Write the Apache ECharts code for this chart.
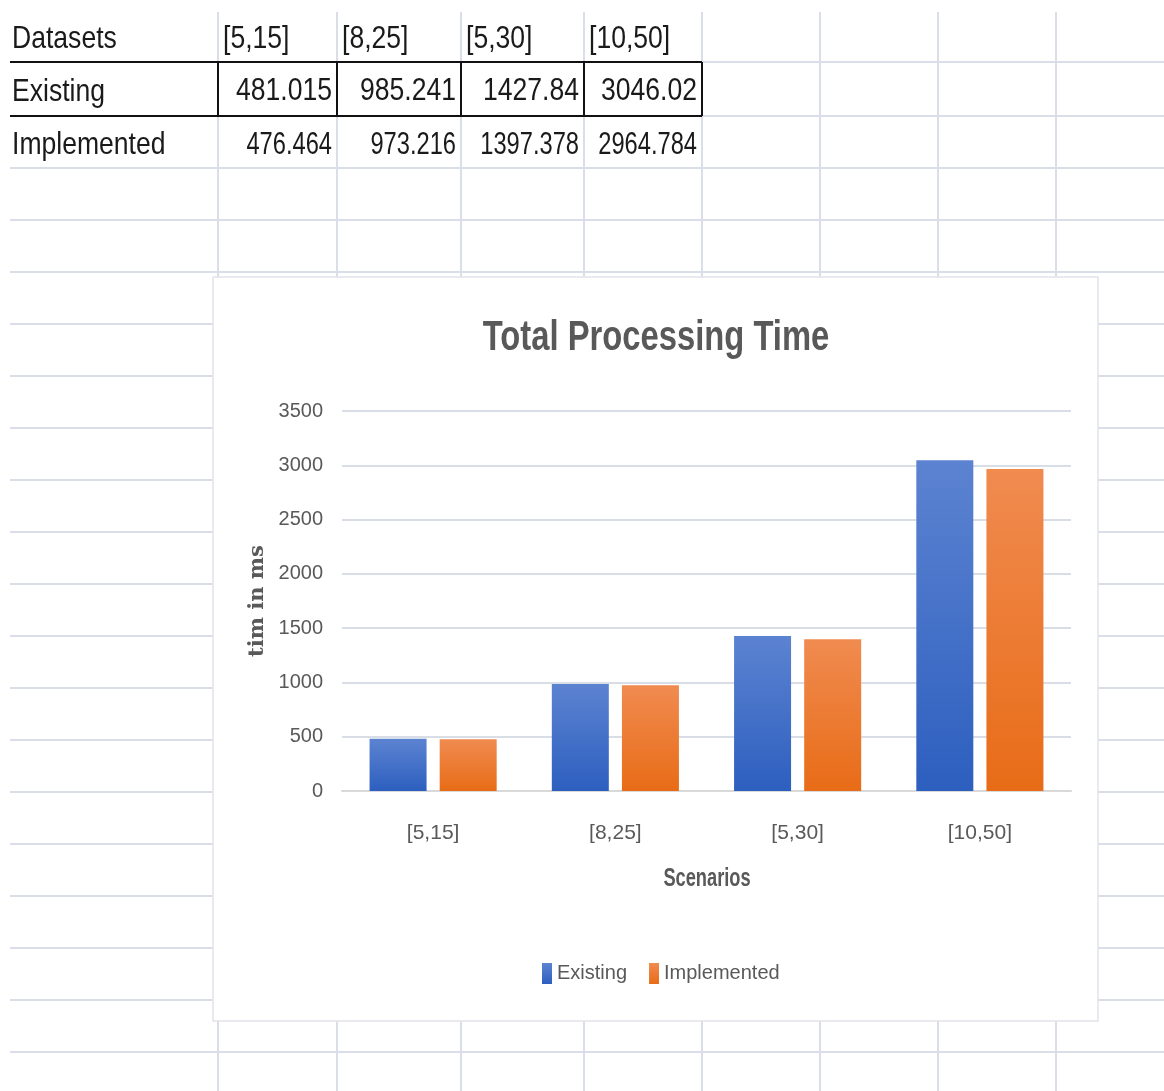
<!DOCTYPE html>
<html>
<head>
<meta charset="utf-8">
<script src="https://cdn.jsdelivr.net/npm/echarts@6/dist/echarts.min.js"></script>
<style>
  html, body { margin: 0; padding: 0; background: #fff; }
  #main { width: 1164px; height: 1091px; }
</style>
</head>
<body>
<div id="main"></div>
<script>
// data
var scenarios = ['[5,15]', '[8,25]', '[5,30]', '[10,50]'];
var existing = [481.015, 985.241, 1427.84, 3046.02];
var implemented = [476.464, 973.216, 1397.378, 2964.784];
var yTicks = [0, 500, 1000, 1500, 2000, 2500, 3000, 3500];

var FONT = '"Liberation Sans", Arial, sans-serif';

// spreadsheet look (cell borders)
var colX = [218, 337, 461, 584, 702, 820, 938, 1056];
var rowY = [62, 116, 168, 220, 272, 324, 376, 428, 480, 532, 584, 636, 688, 740, 792, 844, 896, 948, 1000, 1052];

var elems = [];
colX.forEach(function (x) {
    elems.push({type: 'line', z: -20, shape: {x1: x, y1: 12, x2: x, y2: 1091},
        style: {stroke: '#dadee8', lineWidth: 2}});
});
rowY.forEach(function (y) {
    elems.push({type: 'line', z: -20, shape: {x1: 10, y1: y, x2: 1164, y2: y},
        style: {stroke: '#dadee8', lineWidth: 2}});
});

// thick border around the Existing row
elems.push({type: 'line', z: -5, shape: {x1: 10, y1: 62, x2: 702, y2: 62}, style: {stroke: '#111', lineWidth: 2}});
elems.push({type: 'line', z: -5, shape: {x1: 10, y1: 116, x2: 702, y2: 116}, style: {stroke: '#111', lineWidth: 2}});
for (var c = 0; c < 5; c++)
{
    elems.push({type: 'line', z: -5, shape: {x1: colX[c], y1: 62, x2: colX[c], y2: 116},
        style: {stroke: '#111', lineWidth: 2}});
}

// narrow text: the sheet font is condensed, so squeeze horizontally
function label(txt, x, y, align, size, sx, color, weight, z)
{
    elems.push({type: 'text', z: z, x: x, y: y, scaleX: sx,
        style: {text: txt, fill: color, font: (weight || 'normal') + ' ' + size + 'px ' + FONT,
            align: align, verticalAlign: 'middle'}});
}
function cell(txt, x, y, align, sx)
{
    label(txt, x, y, align, 32, sx || 0.83, '#1a1a1a', 'normal', -4);
}
cell('Datasets', 12, 39, 'left');
cell('Existing', 12, 92, 'left');
cell('Implemented', 12, 145, 'left');
for (var i = 0; i < scenarios.length; i++)
{
    cell(scenarios[i], colX[i] + 5, 39, 'left');
    cell(String(existing[i]), colX[i + 1] - 5, 91, 'right');
    cell(String(implemented[i]), colX[i + 1] - 5, 145, 'right', 0.74);
}

// chart card
elems.push({type: 'rect', z: -10, shape: {x: 213, y: 277, width: 885, height: 744},
    style: {fill: '#ffffff', stroke: '#e2e4ea', lineWidth: 1.5}});

// chart title and x axis name
label('Total Processing Time', 656, 338, 'center', 42, 0.78, '#595959', 'bold', 5);
label('Scenarios', 707, 879, 'center', 25, 0.73, '#595959', 'bold', 5);

function grad(top, bottom)
{
    return {type: 'linear', x: 0, y: 0, x2: 0, y2: 1,
        colorStops: [{offset: 0, color: top}, {offset: 1, color: bottom}]};
}

var myChart = echarts.init(document.getElementById('main'));
var option = {
    backgroundColor: '#ffffff',
    animation: false,
    graphic: {elements: elems},
    legend: {
        data: ['Existing', 'Implemented'],
        left: 537,
        top: 958,
        icon: 'rect',
        itemWidth: 10,
        itemHeight: 21,
        itemGap: 22,
        textStyle: {fontFamily: FONT, fontSize: 20, color: '#595959'}
    },
    grid: {left: 342, right: 93, top: 411, height: 380, containLabel: false},
    xAxis: {
        type: 'category',
        data: scenarios,
        axisLine: {lineStyle: {color: '#d9d9d9', width: 2}},
        axisTick: {show: false},
        axisLabel: {fontFamily: FONT, fontSize: 21, color: '#595959', margin: 32}
    },
    yAxis: {
        type: 'value',
        min: 0,
        max: 3500,
        interval: 500,
        name: 'tim in ms',
        nameLocation: 'middle',
        nameGap: 66,
        nameTextStyle: {fontFamily: '"DejaVu Serif", serif', fontSize: 21, fontWeight: 'bold', color: '#595959'},
        axisLine: {show: false},
        axisTick: {show: false},
        splitLine: {lineStyle: {color: '#d9dde6', width: 2}},
        axisLabel: {fontFamily: FONT, fontSize: 20, color: '#595959', margin: 19,
            formatter: function (v) { return yTicks.indexOf(v) >= 0 ? String(v) : ''; }}
    },
    series: [
        {
            name: 'Existing',
            type: 'bar',
            data: existing,
            barWidth: 57,
            barGap: '23%',
            itemStyle: {color: grad('#5c83d1', '#2d5fbf')}
        },
        {
            name: 'Implemented',
            type: 'bar',
            data: implemented,
            barWidth: 57,
            itemStyle: {color: grad('#f08b50', '#e86c17')}
        }
    ]
};
myChart.setOption(option);
</script>
</body>
</html>
